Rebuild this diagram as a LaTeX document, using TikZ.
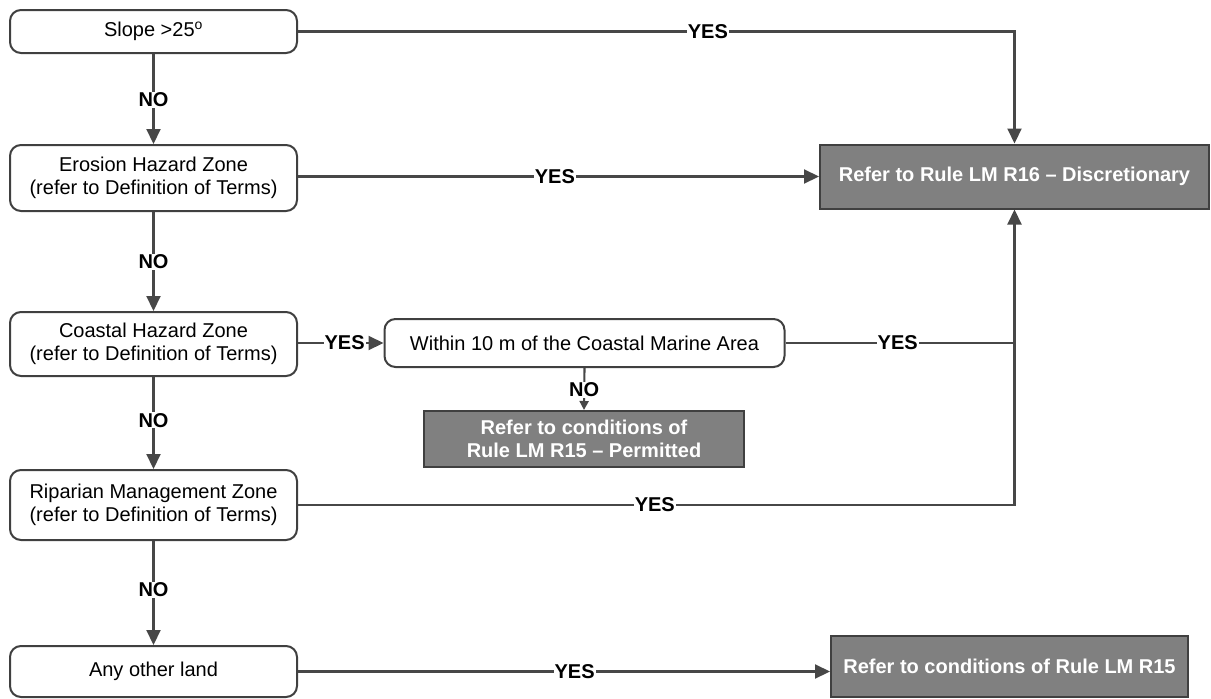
\documentclass[tikz,border=0pt]{standalone}
\usepackage{fontspec}
\setmainfont{Liberation Sans}
\usetikzlibrary{arrows.meta,calc}
\begin{document}
\begin{tikzpicture}[x=1pt,y=-1pt,
  every node/.style={font=\fontsize{20}{23}\selectfont},
  q/.style={draw=black!75,line width=2pt,rounded corners=11pt,fill=white,align=center,inner sep=0pt},
  res/.style={draw=black!75,line width=2pt,fill=black!50,text=white,align=center,inner sep=0pt,font=\fontsize{20}{23}\selectfont\bfseries},
  conn/.style={draw=black!72,line width=2.1pt},
  arr/.style={conn,-{Triangle[length=15pt,width=14pt]}},
  sarr/.style={conn,-{Triangle[length=9pt,width=9pt]}},
  lbl/.style={fill=white,inner sep=1pt,font=\fontsize{20}{23}\selectfont\bfseries}]
\useasboundingbox (0,0) rectangle (1211,699);
\fill[white] (0,0) rectangle (1211,699);
\node[q,minimum width=287pt,minimum height=43pt] (slope) at (153.5,31.5) {Slope >25\textsuperscript{o}};
\node[q,minimum width=287pt,minimum height=66pt] (eros) at (153.5,178) {Erosion Hazard Zone\\(refer to Definition of Terms)};
\node[q,minimum width=287pt,minimum height=64pt] (coast) at (153.5,344) {Coastal Hazard Zone\\(refer to Definition of Terms)};
\node[q,minimum width=287pt,minimum height=70pt] (rip) at (153.5,505) {Riparian Management Zone\\(refer to Definition of Terms)};
\node[q,minimum width=287pt,minimum height=51pt] (any) at (153.5,671.5) {Any other land};
\node[q,minimum width=400pt,minimum height=48pt] (within) at (584.5,343) {Within 10 m of the Coastal Marine Area};
\node[res,minimum width=320pt,minimum height=56pt] (perm) at (584,439) {Refer to conditions of\\Rule LM R15 -- Permitted};
\node[res,minimum width=389pt,minimum height=64pt] (disc) at (1014.5,176.5) {Refer to Rule LM R16 -- Discretionary};
\node[res,minimum width=357pt,minimum height=61pt] (r15) at (1009.5,666.5) {Refer to conditions of Rule LM R15};
\coordinate (j) at (disc.south |- within.east);
% YES connectors
\draw[arr] (slope.east) -| node[lbl,pos=0.286] {YES} (disc.north);
\draw[arr] (eros.east |- disc.west) -- node[lbl,pos=0.493] {YES} (disc.west);
\draw[arr] (coast.east |- within.west) -- node[lbl,pos=0.545] {YES} (within.west);
\draw[conn] (within.east) -- node[lbl,pos=0.49] {YES} (j);
\draw[arr] (rip.east) -| node[lbl,pos=0.249] {YES} (disc.south);
\draw[arr] (any.east) -- node[lbl,pos=0.52] {YES} (r15.west |- any.east);
% NO connectors
\draw[arr] (slope.south) -- node[lbl,pos=0.51] {NO} (eros.north);
\draw[arr] (eros.south) -- node[lbl,pos=0.505] {NO} (coast.north);
\draw[arr] (coast.south) -- node[lbl,pos=0.47] {NO} (rip.north);
\draw[arr] (rip.south) -- node[lbl,pos=0.47] {NO} (any.north);
\draw[sarr] (within.south) -- node[lbl,pos=0.52] {NO} (perm.north);
\end{tikzpicture}
\end{document}
